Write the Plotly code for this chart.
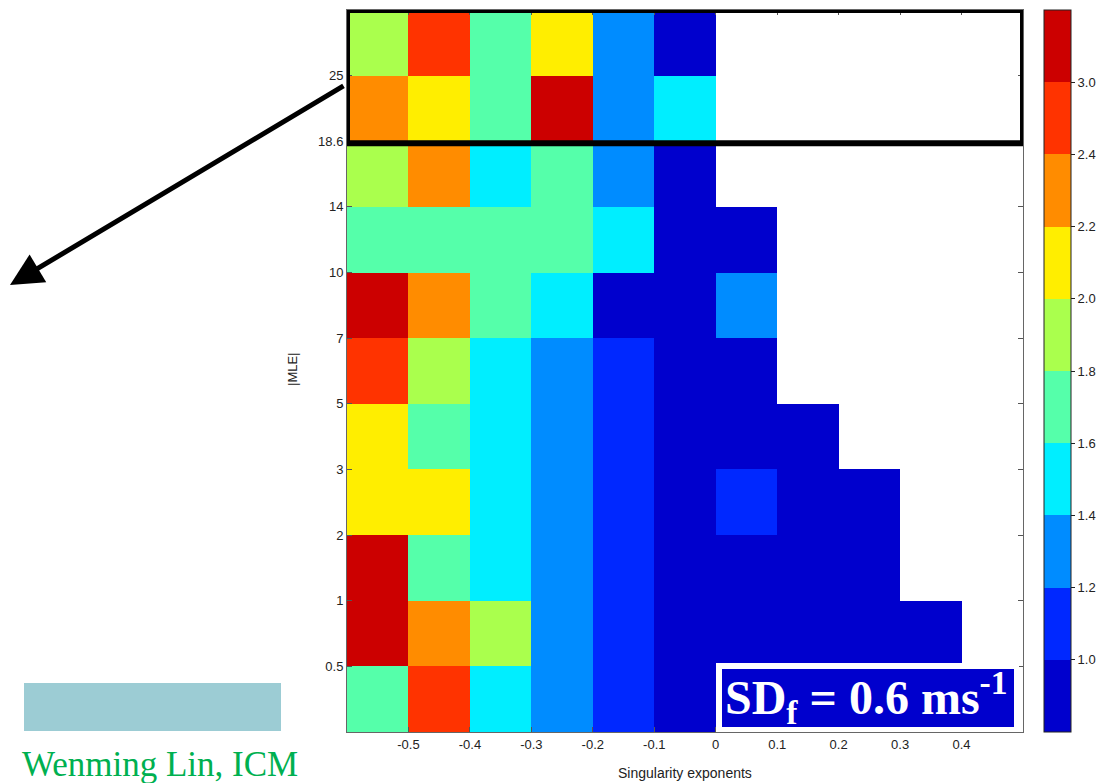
import numpy as np
import plotly.graph_objects as go

# ---- data ----
x_centers = [-0.55, -0.45, -0.35, -0.25, -0.15, -0.05, 0.05, 0.15, 0.25, 0.35, 0.45]
x_tick_vals = [-0.5, -0.4, -0.3, -0.2, -0.1, 0, 0.1, 0.2, 0.3, 0.4]
x_tick_text = ["-0.5", "-0.4", "-0.3", "-0.2", "-0.1", "0", "0.1", "0.2", "0.3", "0.4"]

# row labels (|MLE| bin boundaries, bottom to top)
y_tick_text = ["0.5", "1", "2", "3", "5", "7", "10", "14", "18.6", "25"]

# colour class boundaries and labels
cb_bounds = [1.0, 1.2, 1.4, 1.6, 1.8, 2.0, 2.2, 2.4, 3.0]
cb_text = ["1.0", "1.2", "1.4", "1.6", "1.8", "2.0", "2.2", "2.4", "3.0"]
colors = ["#0000CD", "#0028FF", "#008CFF", "#00EEFF", "#55FFAA",
          "#AAFF4D", "#FFEE00", "#FF8C00", "#FF3300", "#CC0000"]

N = None
# values, rows from bottom (|MLE| < 0.5) to top (> 25)
row_lt05  = [1.7, 2.7, 1.5, 1.3, 1.1, 0.9, 0.9, 0.9, 0.9, 0.9, N]
row_05_1  = [3.2, 2.3, 1.9, 1.3, 1.1, 0.9, 0.9, 0.9, 0.9, 0.9, N]
row_1_2   = [3.2, 1.7, 1.5, 1.3, 1.1, 0.9, 0.9, 0.9, 0.9, N, N]
row_2_3   = [2.1, 2.1, 1.5, 1.3, 1.1, 0.9, 1.1, 0.9, 0.9, N, N]
row_3_5   = [2.1, 1.7, 1.5, 1.3, 1.1, 0.9, 0.9, 0.9, N, N, N]
row_5_7   = [2.7, 1.9, 1.5, 1.3, 1.1, 0.9, 0.9, N, N, N, N]
row_7_10  = [3.2, 2.3, 1.7, 1.5, 0.9, 0.9, 1.3, N, N, N, N]
row_10_14 = [1.7, 1.7, 1.7, 1.7, 1.5, 0.9, 0.9, N, N, N, N]
row_14_18 = [1.9, 2.3, 1.5, 1.7, 1.3, 0.9, N, N, N, N, N]
row_18_25 = [2.3, 2.1, 1.7, 3.2, 1.3, 1.5, N, N, N, N, N]
row_gt25  = [1.9, 2.7, 1.7, 2.1, 1.3, 0.9, N, N, N, N, N]

rows = [row_lt05, row_05_1, row_1_2, row_2_3, row_3_5, row_5_7,
        row_7_10, row_10_14, row_14_18, row_18_25, row_gt25]

# map values to discrete colour classes
z = []
for r in rows:
    zr = []
    for v in r:
        if v is None:
            zr.append(None)
        else:
            zr.append(int(np.digitize(v, cb_bounds)) + 0.5)
    z.append(zr)

ncls = len(colors)
cscale = []
for k, c in enumerate(colors):
    cscale.append([k / ncls, c])
    cscale.append([(k + 1) / ncls, c])

y_idx = list(range(len(rows)))

fig = go.Figure()
fig.add_trace(go.Heatmap(
    x=x_centers, y=y_idx, z=z,
    zmin=0, zmax=ncls, colorscale=cscale,
    hoverongaps=False,
    colorbar=dict(
        x=1.031, xanchor="left", xpad=0,
        y=0.5, yanchor="middle", len=1, lenmode="fraction", ypad=0,
        thickness=27, outlinewidth=1, outlinecolor="#222",
        tickvals=list(range(1, ncls)), ticktext=cb_text,
        ticks="outside", ticklen=4, tickcolor="#222",
        tickfont=dict(family="Liberation Sans", size=13, color="#222"),
    ),
))

axis_font = dict(family="Liberation Sans", size=13, color="#222")
fig.update_xaxes(
    range=[-0.6, 0.5], tickvals=x_tick_vals, ticktext=x_tick_text,
    ticks="inside", ticklen=5, tickcolor="#555", showline=True, linecolor="#666",
    linewidth=1, mirror="ticks", showgrid=False, zeroline=False, tickfont=axis_font,
)
fig.update_yaxes(
    range=[-0.5, len(rows) - 0.5],
    tickvals=[i + 0.5 for i in range(len(y_tick_text))], ticktext=y_tick_text,
    ticks="inside", ticklen=5, tickcolor="#555", showline=True, linecolor="#666",
    linewidth=1, mirror="ticks", showgrid=False, zeroline=False, tickfont=axis_font,
)

shapes = [
    # black highlight box around top two rows
    dict(type="rect", xref="x", yref="y", x0=-0.6, x1=0.5, y0=8.47, y1=10.5,
         line=dict(color="black", width=6), fillcolor="rgba(0,0,0,0)", layer="above"),
    # teal bar bottom left
    dict(type="rect", xref="paper", yref="paper",
         x0=(24 - 347) / 676, x1=(281 - 347) / 676,
         y0=(732 - 731) / 722, y1=(732 - 683) / 722,
         line=dict(width=0), fillcolor="#9CCCD4", layer="above"),
    # SD box: white frame + dark blue fill
    dict(type="rect", xref="paper", yref="paper",
         x0=(716 - 347) / 676, x1=(1019 - 347) / 676,
         y0=(732 - 732) / 722, y1=(732 - 663) / 722,
         line=dict(width=0), fillcolor="white", layer="above"),
    dict(type="rect", xref="paper", yref="paper",
         x0=(722 - 347) / 676, x1=(1014 - 347) / 676,
         y0=(732 - 727) / 722, y1=(732 - 669) / 722,
         line=dict(width=0), fillcolor="#0000CD", layer="above"),
]

annotations = [
    dict(text="<b>SD<sub>f</sub> = 0.6 ms<sup>-1</sup></b>", xref="paper", yref="paper",
         x=(866 - 347) / 676, y=(732 - 697) / 722, xanchor="center", yanchor="middle",
         showarrow=False, font=dict(family="Liberation Serif", size=48, color="white"),
         ),
    dict(text="|MLE|", xref="paper", yref="paper", x=(292 - 347) / 676, y=(732 - 370) / 722,
         textangle=-90, showarrow=False, xanchor="center", yanchor="middle",
         font=dict(family="Liberation Sans", size=13, color="#222")),
    dict(text="Singularity exponents", xref="paper", yref="paper", x=0.5,
         y=(732 - 773) / 722, showarrow=False, xanchor="center", yanchor="middle",
         font=dict(family="Liberation Sans", size=14, color="#222")),
    dict(text="Wenming Lin, ICM", xref="paper", yref="paper",
         x=(160 - 347) / 676, y=(732 - 765) / 722, showarrow=False,
         xanchor="center", yanchor="middle",
         font=dict(family="Liberation Serif", size=35, color="#00B050")),
    dict(text="", xref="paper", yref="paper",
         x=(10 - 347) / 676, y=(732 - 285) / 722,
         ax=335, ay=-200, showarrow=True, arrowhead=2, arrowsize=1.3,
         arrowwidth=5, arrowcolor="black"),
]

fig.update_layout(
    width=1100, height=783,
    margin=dict(l=347, r=77, t=10, b=51, autoexpand=False),
    paper_bgcolor="white", plot_bgcolor="white",
    shapes=shapes, annotations=annotations,
    showlegend=False,
)

fig.write_html("out.html")
